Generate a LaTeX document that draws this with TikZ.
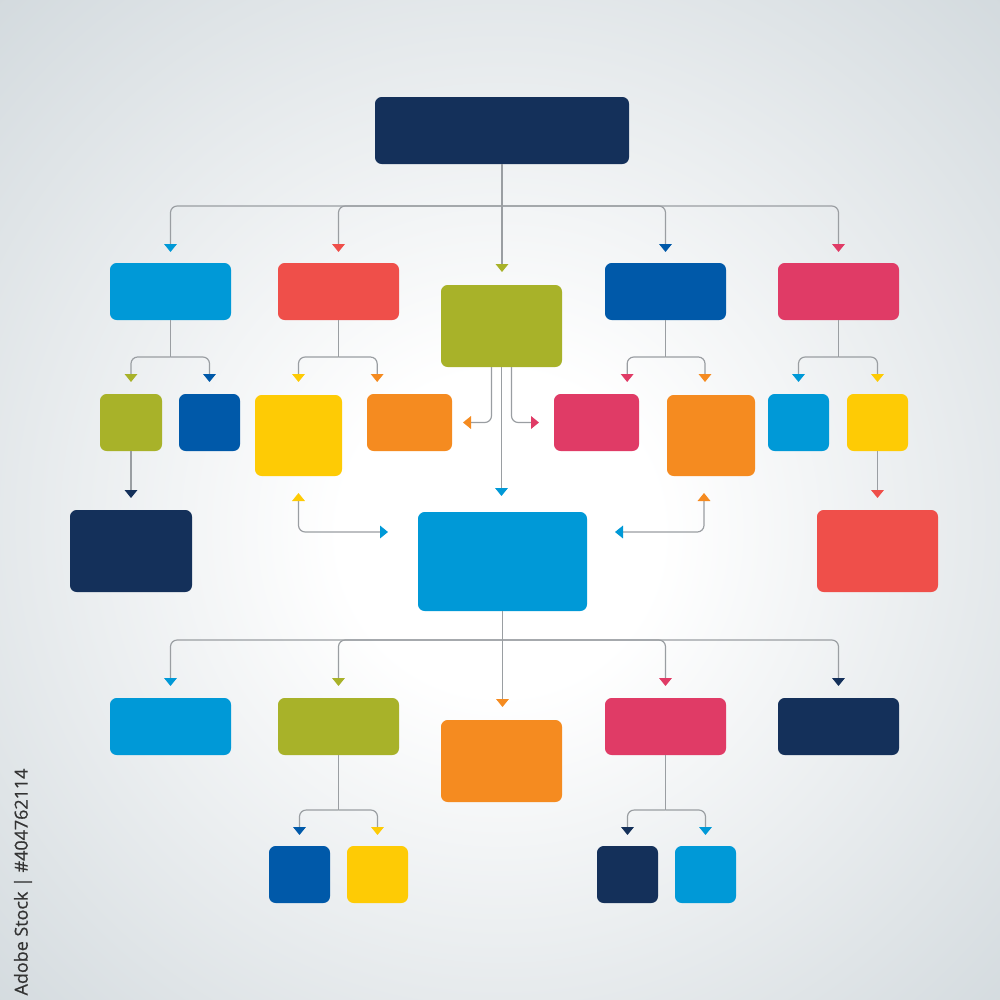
\documentclass[tikz,border=0pt]{standalone}
\usepackage{fontspec}
\newfontfamily\creditfont[FakeBold=0.6]{Open Sans}
\usetikzlibrary{arrows.meta}
\definecolor{navy}{HTML}{14305A}
\definecolor{sky}{HTML}{0099D7}
\definecolor{redc}{HTML}{EF4F4A}
\definecolor{olive}{HTML}{A8B229}
\definecolor{bluec}{HTML}{0059A9}
\definecolor{crim}{HTML}{E03B66}
\definecolor{yel}{HTML}{FECB05}
\definecolor{orng}{HTML}{F58B20}
\definecolor{linec}{HTML}{9A9EA2}
\definecolor{bgedge}{HTML}{D3DADE}
\definecolor{txtc}{HTML}{333333}
\pgfdeclareradialshading{bgshade}{\pgfpoint{0bp}{-2bp}}{color(0bp)=(white); color(8bp)=(white); color(36bp)=(bgedge); color(50bp)=(bgedge)}
\tikzset{
  box/.style={rectangle, rounded corners=2mm, inner sep=0pt, outer sep=0pt, draw=none},
  conn/.style={draw=linec, line width=0.35mm, rounded corners=2mm},
  arr/.style={-{Triangle[width=3.8mm,length=2.4mm,color=#1]}},
}
\newcommand\mybox[6]{\node[box,fill=#6,minimum width={(#4-#2)*0.3mm},minimum height={(#5-#3)*0.3mm}] (#1) at ({(#2+#4)/2},{(#3+#5)/2}) {};}
\begin{document}
\begin{tikzpicture}[x=0.3mm,y=-0.3mm]
\useasboundingbox (0,0) rectangle (1000,1000);
\shade[shading=bgshade] (0,0) rectangle (1000,1000);
% boxes
\mybox{top}{375}{97}{629}{164}{navy}
\mybox{s1}{110}{263}{231}{320}{sky}
\mybox{r1}{278}{263}{399}{320}{redc}
\mybox{g1}{441}{285}{562}{367}{olive}
\mybox{b1}{605}{263}{726}{320}{bluec}
\mybox{c1}{778}{263}{899}{320}{crim}
\mybox{g2}{100}{394}{162}{451}{olive}
\mybox{b2}{179}{394}{240}{451}{bluec}
\mybox{y2}{255}{395}{342}{476}{yel}
\mybox{o2}{367}{394}{452}{451}{orng}
\mybox{c2}{554}{394}{639}{451}{crim}
\mybox{o3}{667}{395}{755}{476}{orng}
\mybox{s2}{768}{394}{829}{451}{sky}
\mybox{y3}{847}{394}{908}{451}{yel}
\mybox{n3}{70}{510}{192}{592}{navy}
\mybox{cen}{418}{512}{587}{611}{sky}
\mybox{r3}{817}{510}{938}{592}{redc}
\mybox{s4}{110}{698}{231}{755}{sky}
\mybox{g4}{278}{698}{399}{755}{olive}
\mybox{o4}{441}{720}{562}{802}{orng}
\mybox{c4}{605}{698}{726}{755}{crim}
\mybox{n4}{778}{698}{899}{755}{navy}
\mybox{b5}{269}{846}{330}{903}{bluec}
\mybox{y5}{347}{846}{408}{903}{yel}
\mybox{n5}{597}{846}{658}{903}{navy}
\mybox{s5}{675}{846}{736}{903}{sky}
% junctions
\coordinate (j1) at ([yshift=-12.6mm]top.south);
\coordinate (js1) at ([yshift=-11.1mm]s1.south);
\coordinate (jr1) at ([yshift=-11.1mm]r1.south);
\coordinate (jb1) at ([yshift=-11.1mm]b1.south);
\coordinate (jc1) at ([yshift=-11.1mm]c1.south);
\coordinate (j5) at ([yshift=-8.7mm]cen.south);
\coordinate (jg4) at ([yshift=-16.5mm]g4.south);
\coordinate (jc4) at ([yshift=-16.5mm]c4.south);
% top level
\draw[conn,arr=sky,shorten >=3.3mm] (j1) -| (s1.north);
\draw[conn,arr=redc,shorten >=3.3mm] (j1) -| (r1.north);
\draw[conn,arr=bluec,shorten >=3.3mm] (j1) -| (b1.north);
\draw[conn,arr=crim,shorten >=3.3mm] (j1) -| (c1.north);
\draw[conn,arr=olive,shorten >=3.9mm] (top.south) -- (top.south |- g1.north);
% sub branches row 1
\draw[conn] (s1.south) -- (js1);
\draw[conn,arr=olive,shorten >=3.6mm] (js1) -| (g2.north);
\draw[conn,arr=bluec,shorten >=3.6mm] (js1) -| (b2.north);
\draw[conn] (r1.south) -- (jr1);
\draw[conn,arr=yel,shorten >=3.9mm] (jr1) -| (y2.north);
\draw[conn,arr=orng,shorten >=3.6mm] (jr1) -| ([xshift=-9.7mm]o2.north);
\draw[conn] (b1.south) -- (jb1);
\draw[conn,arr=crim,shorten >=3.6mm] (jb1) -| ([xshift=9.2mm]c2.north);
\draw[conn,arr=orng,shorten >=3.9mm] (jb1) -| ([xshift=-1.8mm]o3.north);
\draw[conn] (c1.south) -- (jc1);
\draw[conn,arr=sky,shorten >=3.6mm] (jc1) -| (s2.north);
\draw[conn,arr=yel,shorten >=3.6mm] (jc1) -| (y3.north);
% olive centre box
\draw[conn,arr=orng,shorten >=3.3mm] ([xshift=-3mm]g1.south) |- (o2.east);
\draw[conn,arr=crim,shorten >=4.5mm] ([xshift=3mm]g1.south) |- (c2.west);
\draw[conn,arr=sky,shorten >=4.8mm] (g1.south) -- (g1.south |- cen.north);
% to row 3
\draw[conn,arr=navy,shorten >=3.6mm] (g2.south) -- (n3.north);
\draw[conn,arr=redc,shorten >=3.6mm] (y3.south) -- (r3.north);
% double arrows
\draw[conn,{Triangle[width=3.8mm,length=2.4mm,color=yel]}-{Triangle[width=3.8mm,length=2.4mm,color=sky]},shorten <=5.1mm,shorten >=9mm] (y2.south) |- ([yshift=-6mm]cen.north west);
\draw[conn,{Triangle[width=3.8mm,length=2.4mm,color=orng]}-{Triangle[width=3.8mm,length=2.4mm,color=sky]},shorten <=5.1mm,shorten >=8.4mm] ([xshift=-2.1mm]o3.south) |- ([yshift=-6mm]cen.north east);
% bottom level
\draw[conn] (cen.south) -- (j5);
\draw[conn,arr=sky,shorten >=3.6mm] (j5) -| (s4.north);
\draw[conn,arr=olive,shorten >=3.6mm] (j5) -| (g4.north);
\draw[conn,arr=crim,shorten >=3.6mm] (j5) -| (c4.north);
\draw[conn,arr=navy,shorten >=3.6mm] (j5) -| (n4.north);
\draw[conn,arr=orng,shorten >=3.9mm] (j5) -- (j5 |- o4.north);
% bottom sub branches
\draw[conn] (g4.south) -- (jg4);
\draw[conn,arr=bluec,shorten >=3.3mm] (jg4) -| (b5.north);
\draw[conn,arr=yel,shorten >=3.3mm] (jg4) -| (y5.north);
\draw[conn] (c4.south) -- (jc4);
\draw[conn,arr=navy,shorten >=3.3mm] (jc4) -| (n5.north);
\draw[conn,arr=sky,shorten >=3.3mm] (jc4) -| (s5.north);
% credit line
\node[rotate=90,text=txtc,font=\creditfont\fontsize{15.3}{17}\selectfont,inner sep=0pt] (credit) at (23,882) {Adobe Stock | \#404762114};
\end{tikzpicture}
\end{document}
